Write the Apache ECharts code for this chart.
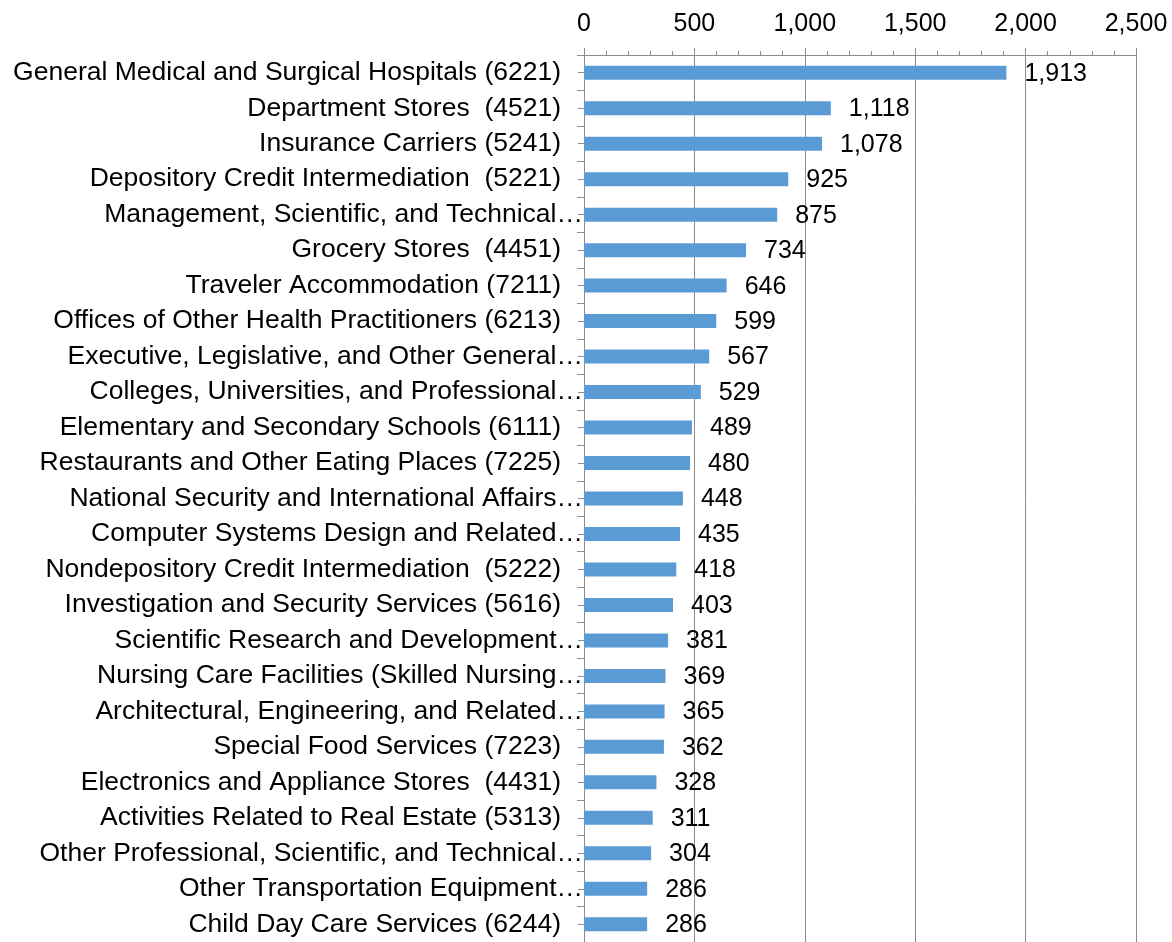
<!DOCTYPE html>
<html>
<head>
<meta charset="utf-8">
<style>
  html, body { margin: 0; padding: 0; background: #fff; }
  #chart { width: 1172px; height: 942px; }
</style>
<script src="https://cdn.jsdelivr.net/npm/echarts@6/dist/echarts.min.js"></script>
</head>
<body>
<div id="chart"></div>
<script>
// industries, top to bottom, as they appear on the axis
var industries = [
    'General Medical and Surgical Hospitals (6221)',
    'Department Stores  (4521)',
    'Insurance Carriers (5241)',
    'Depository Credit Intermediation  (5221)',
    'Management, Scientific, and Technical\u2026',
    'Grocery Stores  (4451)',
    'Traveler Accommodation (7211)',
    'Offices of Other Health Practitioners (6213)',
    'Executive, Legislative, and Other General\u2026',
    'Colleges, Universities, and Professional\u2026',
    'Elementary and Secondary Schools (6111)',
    'Restaurants and Other Eating Places (7225)',
    'National Security and International Affairs\u2026',
    'Computer Systems Design and Related\u2026',
    'Nondepository Credit Intermediation  (5222)',
    'Investigation and Security Services (5616)',
    'Scientific Research and Development\u2026',
    'Nursing Care Facilities (Skilled Nursing\u2026',
    'Architectural, Engineering, and Related\u2026',
    'Special Food Services (7223)',
    'Electronics and Appliance Stores  (4431)',
    'Activities Related to Real Estate (5313)',
    'Other Professional, Scientific, and Technical\u2026',
    'Other Transportation Equipment\u2026',
    'Child Day Care Services (6244)'
];
var counts = [1913, 1118, 1078, 925, 875, 734, 646, 599, 567, 529, 489, 480, 448,
              435, 418, 403, 381, 369, 365, 362, 328, 311, 304, 286, 286];

var FONT = '"Liberation Sans", Arial, sans-serif';
var GRAY = '#8c8c8c';

var myChart = echarts.init(document.getElementById('chart'));
var options = {
    animation: false,
    grid: {
        left: 584,
        right: 36,
        top: 55,
        bottom: -5
    },
    xAxis: {
        type: 'value',
        position: 'top',
        min: 0,
        max: 2500,
        interval: 500,
        axisLine: { show: true, lineStyle: { color: GRAY, width: 1 } },
        axisTick: { show: true, length: 7, lineStyle: { color: GRAY } },
        minorTick: { show: true, splitNumber: 5, length: 4, lineStyle: { color: GRAY } },
        splitLine: { show: true, lineStyle: { color: GRAY, width: 1 } },
        axisLabel: {
            color: '#000',
            fontFamily: FONT,
            fontSize: 25,
            margin: 18,
            formatter: function (v) { return v.toLocaleString('en-US'); }
        }
    },
    yAxis: [
        {
            type: 'category',
            inverse: true,
            data: industries,
            axisLine: { show: true, lineStyle: { color: GRAY } },
            axisTick: { show: true, length: 7, lineStyle: { color: GRAY } },
            axisLabel: {
                margin: 1,
                color: '#000',
                fontFamily: FONT,
                fontSize: 26.5,
                formatter: function (v) {
                    // full names stand off the axis, cut ones run up to it
                    return v.slice(-1) === '\u2026' ? '{cut|' + v + '}' : '{full|' + v + '}';
                },
                rich: {
                    cut: { fontFamily: FONT, fontSize: 26.5, color: '#000' },
                    full: { fontFamily: FONT, fontSize: 26.5, color: '#000', padding: [0, 22, 0, 0] }
                }
            }
        },
        {
            // small centre ticks that cross the axis line
            type: 'category',
            inverse: true,
            position: 'left',
            offset: -6,
            data: industries,
            axisLine: { show: false },
            axisLabel: { show: false },
            axisTick: { show: true, alignWithLabel: true, length: 12, lineStyle: { color: GRAY } }
        }
    ],
    series: [
        {
            type: 'bar',
            data: counts,
            barWidth: 14,
            itemStyle: { color: '#5b9bd5' },
            label: {
                show: true,
                position: 'right',
                distance: 18,
                color: '#000',
                fontFamily: FONT,
                fontSize: 25,
                offset: [0, 1],
                formatter: function (p) { return p.value.toLocaleString('en-US'); }
            }
        }
    ]
};
myChart.setOption(options);
</script>
</body>
</html>
